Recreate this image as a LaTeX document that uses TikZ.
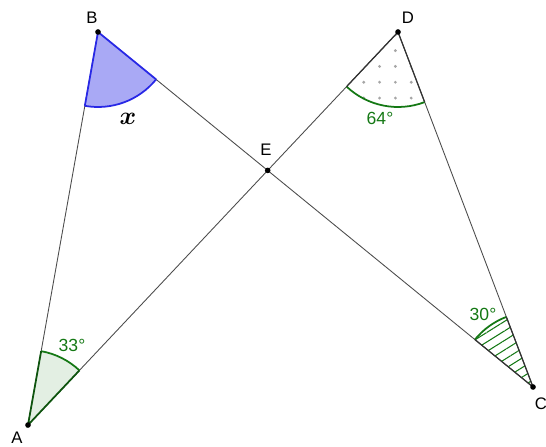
\documentclass[tikz,border=0pt]{standalone}
\usepackage{amsmath}
\usepackage{fontspec}
\setmainfont{Liberation Sans}
\usetikzlibrary{calc,angles,patterns.meta}
\definecolor{ggreen}{RGB}{20,120,20}
\definecolor{gblue}{RGB}{40,40,230}

\begin{document}
\begin{tikzpicture}[
  seg/.style={black!70, line width=0.5pt},
  rim/.style={line width=1pt},
  ptlbl/.style={font=\fontsize{9.5}{11}\selectfont},
  anglbl/.style={font=\fontsize{10}{12}\selectfont, text=ggreen}
]
\useasboundingbox (0,0) rectangle (10.92,8.92);

% Vertices
\coordinate (A) at (0.56,0.42);
\coordinate (B) at (1.96,8.28);
\coordinate (C) at (10.66,1.18);
\coordinate (D) at (7.96,8.28);
\coordinate (E) at (intersection of B--C and A--D);

% Segments
\draw[seg] (A) -- (B);
\draw[seg] (B) -- (C);
\draw[seg] (A) -- (D);
\draw[seg] (D) -- (C);

% Angle sectors
\pic[draw=gblue, fill=gblue!40, rim, angle radius=1.5cm] {angle=A--B--E};
\draw[gblue, rim] ($(B)!1.5cm!(A)$) -- (B) -- ($(B)!1.5cm!(E)$);

\pic[draw=ggreen, fill=ggreen!12, rim, angle radius=1.5cm] {angle=E--A--B};
\draw[ggreen!70!black, rim] ($(A)!1.5cm!(E)$) -- (A) -- ($(A)!1.5cm!(B)$);

\pic[draw=ggreen, rim, pattern={Dots[distance=9pt, radius=0.9pt]}, pattern color=gray!70, angle radius=1.5cm] {angle=E--D--C};
\draw[black!80, line width=0.7pt] ($(D)!1.5cm!(E)$) -- (D) -- ($(D)!1.5cm!(C)$);

\pic[draw=ggreen, rim, pattern={Lines[angle=32, distance=4.6pt, line width=0.6pt]}, pattern color=ggreen, angle radius=1.5cm] {angle=D--C--B};
\draw[black!80, line width=0.7pt] ($(C)!1.5cm!(D)$) -- (C) -- ($(C)!1.5cm!(B)$);

% Points
\foreach \p in {A,B,C,D,E}
  \fill (\p) circle (1.6pt);

% Point labels
\node[ptlbl] (lA) at (0.34,0.16) {A};
\node[ptlbl] (lB) at (1.84,8.56) {B};
\node[ptlbl] (lC) at (10.82,0.84) {C};
\node[ptlbl] (lD) at (8.16,8.56) {D};
\node[ptlbl] (lE) at (5.32,5.92) {E};

% Angle labels
\node[font=\fontsize{15}{18}\selectfont] (lx) at (2.56,6.54) {$\boldsymbol{x}$};
\node[anglbl] (l64) at (7.6,6.56) {64°};
\node[anglbl] (l33) at (1.44,2.02) {33°};
\node[anglbl] (l30) at (9.66,2.64) {30°};

\end{tikzpicture}
\end{document}
